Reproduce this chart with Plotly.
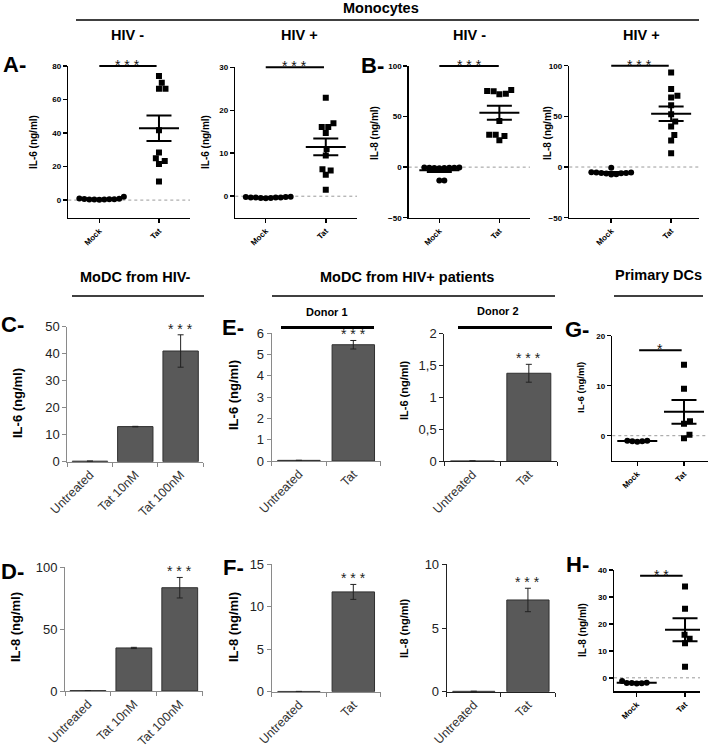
import math
import plotly.graph_objects as go

W, H = 712, 749
FONT = "Liberation Sans, Arial, sans-serif"

# ---------------- data ----------------
groups = ["Mock", "Tat"]
# Monocytes, IL-6 (ng/ml)
a_hivneg_mock = [0.5, 0.4, 0.6, 0.3, 0.2, 0.5, 1.0, 2.0, 0.8, 0.4]
a_hivneg_tat = [74.0, 70.0, 66.5, 66.5, 41.7, 28.4, 25.0, 23.4, 21.6, 11.1]
a_hivpos_mock = [-0.2, -0.3, -0.4, -0.3, -0.5, -0.4, -0.3, -0.2, -0.1, -0.3]
a_hivpos_tat = [22.9, 17.0, 16.1, 16.1, 14.7, 11.0, 9.5, 6.3, 6.0, 5.0, 1.5]
# Monocytes, IL-8 (ng/ml)
b_hivneg_mock = [-0.5, -0.8, -0.3, -1.0, -0.6, -0.4, -0.9, -0.7, -13.2, -13.2]
b_hivneg_tat = [76.2, 75.2, 72.6, 72.0, 75.0, 45.5, 32.0, 26.7, 30.7, 32.0]
b_hivpos_mock = [-0.7, -5.5, -6.0, -6.5, -7.0, -5.2, -6.1, -7.3, -5.8, -5.4]
b_hivpos_tat = [93.4, 76.9, 70.3, 68.6, 61.0, 52.1, 45.0, 40.0, 31.7, 26.1, 13.5]
# Primary DCs
g_mock = [-1.0, -1.1, -1.2, -1.0, -1.1]
g_tat = [14.2, 9.4, 2.9, 2.4, 0.2, -0.5]
h_mock = [-1.9, -2.0, -1.2, -1.8, -2.1, -1.9]
h_tat = [33.9, 25.6, 16.0, 14.5, 12.8, 4.1]

# MoDC bar charts
modc_cats = ["Untreated", "Tat 10nM", "Tat 100nM"]
c_il6 = [0.2, 13.0, 41.0]
c_il6_err = [0.0, 0.1, 6.0]
d_il8 = [0.3, 34.8, 83.5]
d_il8_err = [0.0, 0.5, 8.3]
donor_cats = ["Untreated", "Tat"]
e1_il6 = [0.03, 5.45]
e1_il6_err = [0.0, 0.2]
e2_il6 = [0.005, 1.38]
e2_il6_err = [0.0, 0.14]
f1_il8 = [0.03, 11.75]
f1_il8_err = [0.0, 0.88]
f2_il8 = [0.03, 7.2]
f2_il8_err = [0.0, 0.92]

# ---------------- figure ----------------
fig = go.Figure()
lay = dict(width=W, height=H, margin=dict(l=0, r=0, t=0, b=0, pad=0, autoexpand=False),
           autosize=False, paper_bgcolor="white", plot_bgcolor="white", showlegend=False,
           bargap=0.22)
shapes, annots = [], []


def keys(i):
    s = "" if i == 1 else str(i)
    return "x" + s, "y" + s, "xaxis" + s, "yaxis" + s


def text(x, y, t, size, bold=True, angle=0, color="black"):
    annots.append(dict(x=x / W, y=1 - y / H, xref="paper", yref="paper", text=t,
                       showarrow=False, textangle=angle, xanchor="center", yanchor="middle",
                       font=dict(family=FONT, size=size, color=color,
                                 weight="bold" if bold else "normal")))


def hline(x0, x1, y, w=1.5):
    shapes.append(dict(type="line", xref="paper", yref="paper", x0=x0 / W, x1=x1 / W,
                       y0=1 - y / H, y1=1 - y / H, line=dict(color="black", width=w)))


def beeswarm(values, pxu, pyu, d):
    placed = []
    out = [0.0] * len(values)
    order = sorted(range(len(values)), key=lambda k: values[k])
    for k in order:
        y = values[k] * pyu
        cands = [0.0]
        for (px_, py_) in placed:
            dy = abs(py_ - y)
            if dy < d:
                dx = math.sqrt(d * d - dy * dy)
                cands += [px_ + dx, px_ - dx]
        cands.sort(key=lambda c: (round(abs(c), 6), -c))
        chosen = 0.0
        for c in cands:
            if all((c - p[0]) ** 2 + (y - p[1]) ** 2 >= d * d - 1e-6 for p in placed):
                chosen = c
                break
        placed.append((chosen, y))
        out[k] = chosen / pxu
    return out


scat_axis = dict(showline=True, linecolor="black", linewidth=1.5, ticks="outside",
                 ticklen=4, tickwidth=1.5, tickcolor="black", showgrid=False,
                 zeroline=False, fixedrange=True, automargin=False,
                 tickfont=dict(family=FONT, size=8, color="black", weight="bold"))


def scatter_panel(i, mock, tat, box, yr, yticks, xr, sig_y, sig_x, stars):
    xa, ya, xk, yk = keys(i)
    l, r, t, b = box
    pxu = (r - l) / (xr[1] - xr[0])
    pyu = (b - t) / (yr[1] - yr[0])
    lay[xk] = dict(domain=[l / W, r / W], range=xr, anchor=ya, tickmode="array",
                   tickvals=[0, 1], ticktext=groups, tickangle=-45, **scat_axis)
    lay[yk] = dict(domain=[1 - b / H, 1 - t / H], range=yr, anchor=xa, tickmode="array",
                   tickvals=yticks, **scat_axis)
    shapes.append(dict(type="line", xref=xa + " domain", yref=ya, x0=0, x1=1, y0=0, y1=0,
                       line=dict(color="#9a9a9a", width=1, dash="dot"), layer="below"))
    for k, (vals, sym, d) in enumerate([(mock, "circle", 5.0), (tat, "square", 6.5)]):
        offs = beeswarm(vals, pxu, pyu, d)
        fig.add_trace(go.Scatter(x=[k + o for o in offs], y=vals, mode="markers",
                                 marker=dict(symbol=sym, size=6, color="black", line=dict(width=0)),
                                 xaxis=xa, yaxis=ya, hoverinfo="skip"))
        n = len(vals)
        m = sum(vals) / n
        sd = math.sqrt(sum((v - m) ** 2 for v in vals) / (n - 1))
        se = sd / math.sqrt(n)
        hw = 20 / pxu
        hs = 12.5 / pxu
        xs = [k - hw, k + hw, None, k - hs, k + hs, None, k - hs, k + hs, None, k, k]
        ys = [m, m, None, m + se, m + se, None, m - se, m - se, None, m - se, m + se]
        fig.add_trace(go.Scatter(x=xs, y=ys, mode="lines", line=dict(color="black", width=2),
                                 xaxis=xa, yaxis=ya, hoverinfo="skip"))
    # significance bar
    x0 = l + (sig_x[0] - xr[0]) * pxu
    x1 = l + (sig_x[1] - xr[0]) * pxu
    py = t + (yr[1] - sig_y) * pyu
    hline(x0, x1, py, 2)
    text((x0 + x1) / 2, py - 1, stars, 14, bold=False, color="#111")


bar_font = dict(family=FONT, size=13, color="#222")


def bar_panel(i, cats, vals, errs, box, yr, ytv, ytt, axcolor):
    xa, ya, xk, yk = keys(i)
    l, r, t, b = box
    n = len(cats)
    lay[xk] = dict(domain=[l / W, r / W], type="category", range=[-0.5, n - 0.5], anchor=ya,
                   tickson="boundaries", ticks="outside", ticklen=4, tickcolor=axcolor,
                   showline=True, linecolor=axcolor, linewidth=1, tickangle=-45,
                   tickfont=dict(family=FONT, size=12.5, color="#333"), showgrid=False,
                   zeroline=False, fixedrange=True, automargin=False)
    lay[yk] = dict(domain=[1 - b / H, 1 - t / H], range=yr, anchor=xa, tickmode="array",
                   tickvals=ytv, ticktext=ytt, ticks="outside", ticklen=4, tickcolor=axcolor,
                   showline=True, linecolor=axcolor, linewidth=1, tickfont=bar_font,
                   showgrid=False, zeroline=False, fixedrange=True, automargin=False)
    fig.add_trace(go.Bar(x=cats, y=vals,
                         error_y=dict(type="data", array=errs, visible=True, color="#222",
                                      thickness=1, width=3),
                         marker=dict(color="#595959", line=dict(color="#303030", width=1)),
                         xaxis=xa, yaxis=ya, hoverinfo="skip"))
    annots.append(dict(x=cats[-1], y=vals[-1] + errs[-1], xref=xa, yref=ya, text="* * *",
                       showarrow=False, yanchor="middle", yshift=6,
                       font=dict(family=FONT, size=14, color="#222")))


# ---- top row: monocytes ----
scatter_panel(1, a_hivneg_mock, a_hivneg_tat, (68.3, 190, 66, 217.7), [-10.5, 80],
              [0, 20, 40, 60, 80], [-0.52, 1.52], 80, (0, 0.96), "* * *")
scatter_panel(2, a_hivpos_mock, a_hivpos_tat, (235.3, 357, 67.3, 217.7), [-5, 30],
              [0, 10, 20, 30], [-0.507, 1.52], 30, (0, 0.97), "* * *")
scatter_panel(3, b_hivneg_mock, b_hivneg_tat, (408.7, 530, 66, 217.7), [-50, 100],
              [-50, 0, 50, 100], [-0.51, 1.51], 100, (0, 0.99), "* * *")
scatter_panel(4, b_hivpos_mock, b_hivpos_tat, (569.3, 698.7, 65.7, 217.7), [-50, 100],
              [-50, 0, 50, 100], [-0.7, 1.46], 100, (0, 0.96), "* * *")
# ---- primary DCs ----
scatter_panel(5, g_mock, g_tat, (612.3, 708, 335.7, 460.7), [-5, 20],
              [0, 10, 20], [-0.535, 1.514], 17.1, (0.04, 0.95), "*")
scatter_panel(6, h_mock, h_tat, (614, 700, 570, 691.3), [-5, 40],
              [0, 10, 20, 30, 40], [-0.47, 1.31], 37.9, (0.07, 0.95), "* *")

# ---- MoDC bars ----
bar_panel(7, modc_cats, c_il6, c_il6_err, (67.3, 203.3, 326.7, 461.7), [0, 50],
          [0, 10, 20, 30, 40, 50], ["0", "10", "20", "30", "40", "50"], "#8a8a8a")
bar_panel(8, modc_cats, d_il8, d_il8_err, (65, 202.7, 567.3, 691), [0, 100],
          [0, 50, 100], ["0", "50", "100"], "#8a8a8a")
bar_panel(9, donor_cats, e1_il6, e1_il6_err, (271.7, 380.5, 333, 461), [0, 6],
          [0, 1, 2, 3, 4, 5, 6], ["0", "1", "2", "3", "4", "5", "6"], "#8a8a8a")
bar_panel(10, donor_cats, e2_il6, e2_il6_err, (444.3, 557, 333.7, 461.3), [0, 2],
          [0, 0.5, 1, 1.5, 2], ["0", "0,5", "1", "1,5", "2"], "#222")
bar_panel(11, donor_cats, f1_il8, f1_il8_err, (271.7, 380.5, 564.3, 691.7), [0, 15],
          [0, 5, 10, 15], ["0", "5", "10", "15"], "#8a8a8a")
bar_panel(12, donor_cats, f2_il8, f2_il8_err, (446.7, 555, 564.3, 691.7), [0, 10],
          [0, 5, 10], ["0", "5", "10"], "#222")

# ---- headers ----
text(381, 8, "Monocytes", 14.5)
hline(76, 699, 20, 1.5)
text(127, 35, "HIV -", 14.5)
text(299, 35, "HIV +", 14.5)
text(469, 35, "HIV -", 14.5)
text(641, 35, "HIV +", 14.5)
text(14, 64, "A-", 22)
text(372, 66, "B-", 22)

text(135, 277, "MoDC from HIV-", 14.5)
hline(72, 204, 296)
text(407, 277, "MoDC from HIV+ patients", 14.5)
hline(272, 555, 296)
text(658, 275, "Primary DCs", 14.5)
hline(614, 703, 296)
text(327, 312, "Donor 1", 11)
hline(281, 374, 327.5, 3)
text(498, 311, "Donor 2", 11)
hline(458, 552, 327.5, 3)

text(12, 324, "C-", 22)
text(233, 327, "E-", 22)
text(577, 330, "G-", 22)
text(12, 571, "D-", 22)
text(233, 567, "F-", 22)
text(577, 564, "H-", 22)

# ---- y-axis titles ----
text(33, 142, "IL-6 (ng/ml)", 10, angle=-90)
text(205, 142, "IL-6 (ng/ml)", 10, angle=-90)
text(374, 133, "IL-8 (ng/ml)", 10, angle=-90)
text(547, 133, "IL-8 (ng/ml)", 10, angle=-90)
text(580, 388, "IL-6 (ng/ml)", 9.5, angle=-90)
text(582, 630, "IL-8 (ng/ml)", 10, angle=-90)
text(17, 403, "IL-6 (ng/ml)", 13, angle=-90)
text(15, 627, "IL-8 (ng/ml)", 13, angle=-90)
text(233, 395, "IL-6 (ng/ml)", 13, angle=-90)
text(404, 390, "IL-6 (ng/ml)", 11, angle=-90)
text(233, 627, "IL-8 (ng/ml)", 13, angle=-90)
text(404, 628, "IL-8 (ng/ml)", 11, angle=-90)

lay["shapes"] = shapes
lay["annotations"] = annots
fig.update_layout(**lay)
fig.write_html("out.html", config={"displayModeBar": False, "staticPlot": True},
               post_script="document.body.style.margin='0';document.body.style.overflow='hidden';")
